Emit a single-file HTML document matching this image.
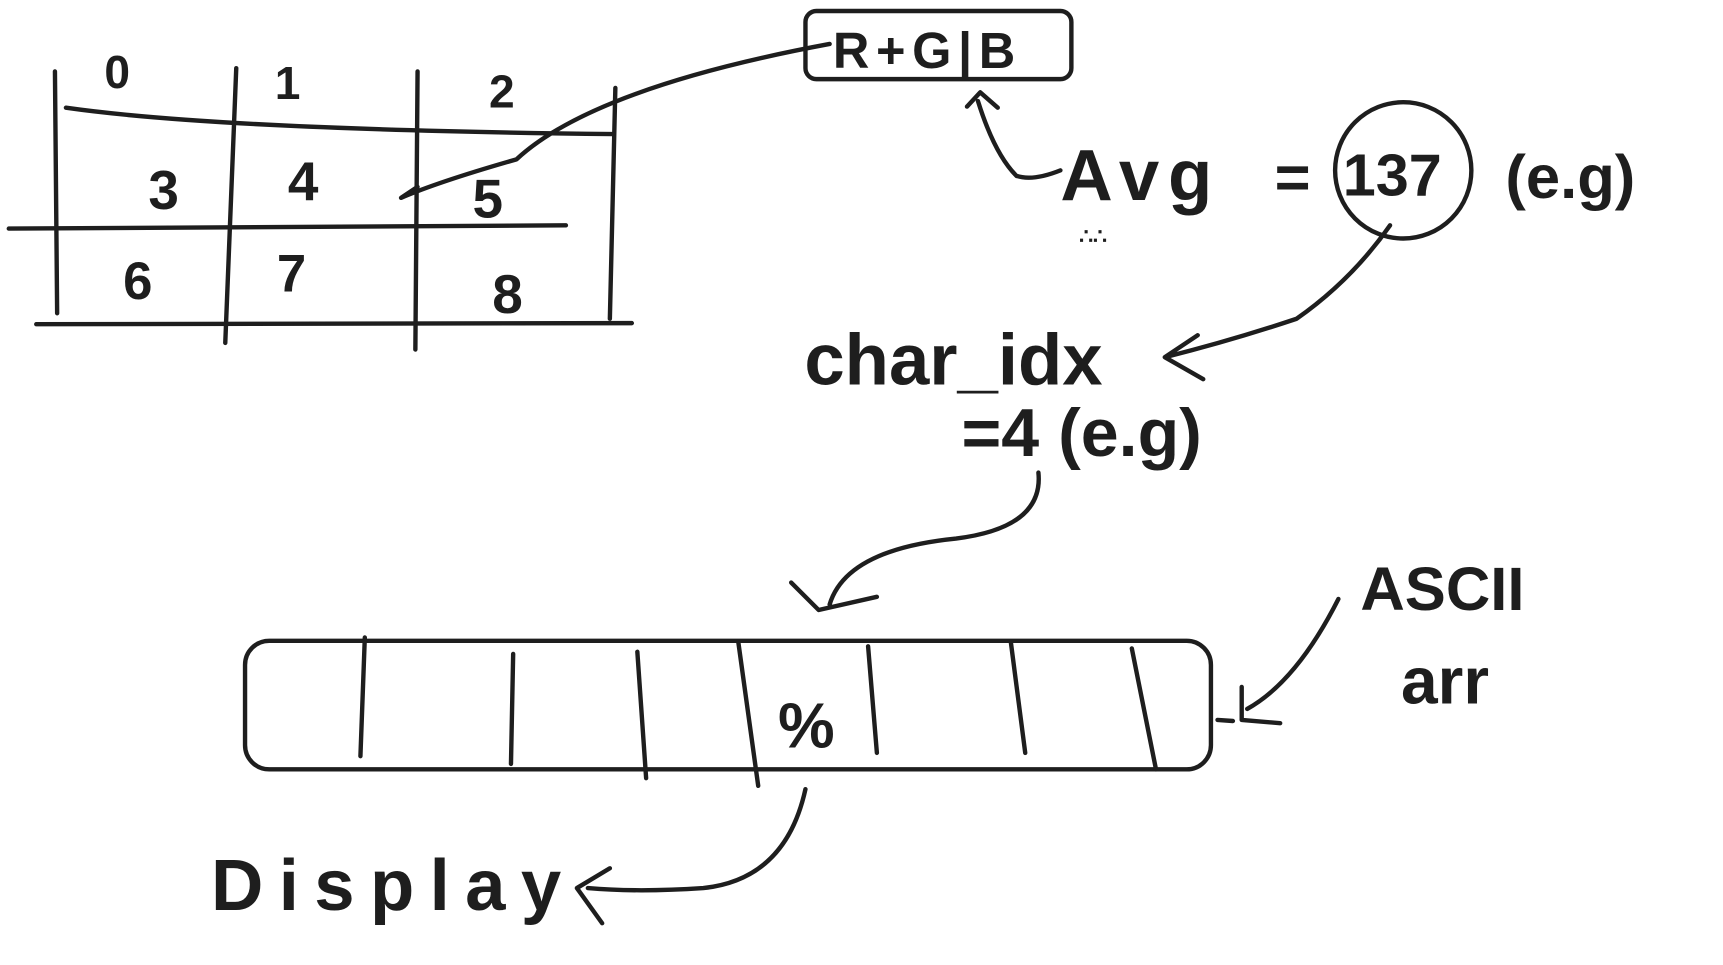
<!DOCTYPE html>
<html><head><meta charset="utf-8"><style>
html,body{margin:0;padding:0;background:#fff;width:1723px;height:965px;overflow:hidden}
svg{display:block}
text{font-family:"Liberation Sans",sans-serif;font-weight:bold;fill:#1e1e1e}
.s{fill:none;stroke:#1e1e1e;stroke-width:4;stroke-linecap:round;stroke-linejoin:round}
</style></head><body>
<svg width="1723" height="965" viewBox="0 0 1568 878" preserveAspectRatio="none">
<g>
<path class="s" d="M50 65 L52 285"/><path class="s" d="M215 62 L205 312"/><path class="s" d="M380 65 L378 318"/><path class="s" d="M560 80 L555 290"/>
<path class="s" d="M60 98 Q200 118 558 122"/><path class="s" d="M8 208 L515 205"/><path class="s" d="M33 295 L575 294"/>
<text x="95" y="80" font-size="42">0</text><text x="250" y="90" font-size="42">1</text><text x="445" y="98" font-size="42">2</text>
<text x="135" y="190" font-size="50">3</text><text x="262" y="182" font-size="50">4</text><text x="430" y="198" font-size="50">5</text>
<text x="112" y="272" font-size="48">6</text><text x="252" y="265" font-size="48">7</text><text x="448" y="285" font-size="50">8</text>
</g>
<path class="s" d="M365 180 Q400 165 470 145 Q540 80 755 40 M365 180 L380 170"/>
<g>
<rect class="s" x="733" y="10" width="242" height="62" rx="10"/>
<text x="758" y="62" font-size="46" letter-spacing="6">R+G|B</text>
</g>
<path class="s" d="M965 155 Q940 165 925 160 Q905 140 890 92 M880 97 L892 84 L908 98"/>
<g>
<text x="965" y="182" font-size="66" letter-spacing="8">Avg</text>
<text x="1160" y="180" font-size="56">=</text>
<circle class="s" cx="1277" cy="155" r="62"/>
<text x="1222" y="178" font-size="54">137</text>
<text x="1370" y="180" font-size="56">(e.g)</text>
<text x="982" y="222" font-size="20">∴∴</text>
</g>
<path class="s" d="M1265 205 Q1230 255 1180 290 Q1120 310 1060 325 L1095 345 M1060 325 L1090 305"/>
<g>
<text x="732" y="350" font-size="66">char_idx</text>
<text x="875" y="415" font-size="62">=4 (e.g)</text>
</g>
<path class="s" d="M945 430 Q950 480 870 490 Q770 500 755 550 M720 530 L745 555 L798 543"/>
<g>
<rect class="s" x="223" y="583" width="879" height="117" rx="22"/>
<path class="s" d="M332 580 L328 688 M467 595 L465 695 M580 593 L588 708 M672 585 L690 715 M790 588 L798 685 M920 585 L933 685 M1030 590 L1052 700"/>
<text x="708" y="680" font-size="58">%</text>
</g>
<g>
<text x="1238" y="555" font-size="56">ASCII</text>
<text x="1275" y="640" font-size="60">arr</text>
</g>
<path class="s" d="M1218 545 Q1180 620 1135 645 M1130 625 L1130 655 L1165 658 M1108 655 L1122 656"/>
<path class="s" d="M733 718 Q715 800 640 808 Q580 812 535 808 M555 790 L525 808 L548 840"/>
<text x="192" y="828" font-size="66" letter-spacing="14">Display</text>
</svg>
</body></html>
